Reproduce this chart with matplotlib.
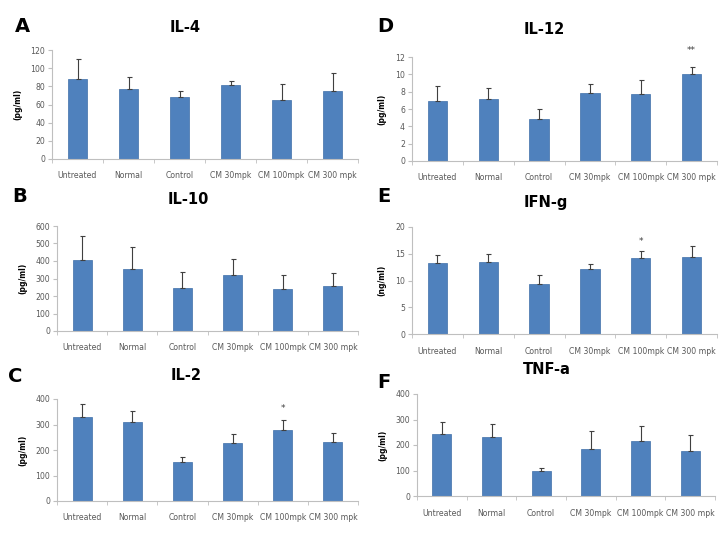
import numpy as np
import matplotlib
matplotlib.use("Agg")
import matplotlib.pyplot as plt

# categories shared by every panel
groups = ["Untreated", "Normal", "Control", "CM 30mpk", "CM 100mpk", "CM 300 mpk"]

# mean values and upper error-bar ends
il4 = [88, 77, 68, 82, 65, 75]
il4_top = [110, 90, 74.5, 85.5, 82.5, 95]

il10 = [408, 356, 246, 318, 238, 255]
il10_top = [545, 480, 335, 411, 320, 331]

il2 = [328, 309, 153, 228, 277, 233]
il2_top = [379, 353, 173, 264, 316, 265]

il12 = [6.9, 7.2, 4.9, 7.8, 7.7, 10.0]
il12_top = [8.6, 8.4, 6.0, 8.9, 9.4, 10.9]

ifng = [13.3, 13.4, 9.4, 12.1, 14.2, 14.3]
ifng_top = [14.7, 15.0, 11.0, 13.1, 15.6, 16.5]

tnfa = [243, 233, 97, 183, 214, 178]
tnfa_top = [291, 283, 110, 253, 276, 238]

BAR = "#4f81bd"
AXC = "#bfbfbf"
TXT = "#595959"

fig = plt.figure(figsize=(7.25, 5.38), dpi=100)
W, H = 725.0, 538.0


def add_panel(px_left, px_right, px_top, px_bottom, vals, tops, ymax, ystep,
              ylabel, title, title_xy, letter, letter_xy, stars=None):
    ax = fig.add_axes([px_left / W, 1 - px_bottom / H,
                       (px_right - px_left) / W, (px_bottom - px_top) / H])
    x = np.arange(len(groups))
    vals = np.array(vals)
    errs = np.array(tops) - vals
    ax.bar(x, vals, width=0.38, color=BAR, edgecolor="#3f6fa8", linewidth=0.5, zorder=2)
    ax.errorbar(x, vals, yerr=[np.zeros_like(errs), errs], fmt="none",
                ecolor="#404040", elinewidth=0.8, capsize=1.8, capthick=0.8, zorder=3)
    if stars:
        for i, (s, yv) in stars.items():
            ax.text(i, yv, s, ha="center", va="center", fontsize=6.5, color="#404040")
    ax.set_xlim(-0.5, len(groups) - 0.5)
    ax.set_ylim(0, ymax)
    ax.set_yticks(np.arange(0, ymax + ystep / 2, ystep))
    ax.set_xticks(x)
    ax.set_xticklabels(groups)
    ax.set_xticks(np.arange(-0.5, len(groups)), minor=True)
    for s in ["top", "right"]:
        ax.spines[s].set_visible(False)
    for s in ["left", "bottom"]:
        ax.spines[s].set_color(AXC)
        ax.spines[s].set_linewidth(0.8)
    ax.tick_params(axis="x", which="major", length=0, labelsize=5.6, colors=TXT, pad=9)
    ax.tick_params(axis="x", which="minor", length=3, color=AXC, direction="out")
    ax.tick_params(axis="y", length=3, color=AXC, labelsize=5.6, labelcolor=TXT, pad=2)
    ax.set_ylabel(ylabel, fontsize=5.5, fontweight="bold", labelpad=6)
    fig.text(title_xy[0] / W, 1 - title_xy[1] / H, title, ha="center", va="center",
             fontsize=10.5, fontweight="bold")
    fig.text(letter_xy[0] / W, 1 - letter_xy[1] / H, letter, ha="center", va="center",
             fontsize=14, fontweight="bold")
    return ax


add_panel(52, 358, 50, 159, il4, il4_top, 120, 20, "(pg/ml)",
          "IL-4", (185, 27), "A", (22, 27))
add_panel(57, 358, 226, 331, il10, il10_top, 600, 100, "(pg/ml)",
          "IL-10", (188, 200), "B", (20, 196))
add_panel(57, 358, 399, 501, il2, il2_top, 400, 100, "(pg/ml)",
          "IL-2", (186, 375), "C", (15, 377), stars={4: ("*", 362)})
add_panel(412, 717, 57, 161, il12, il12_top, 12, 2, "(pg/ml)",
          "IL-12", (544, 30), "D", (385, 27), stars={5: ("**", 12.7)})
add_panel(412, 717, 227, 334, ifng, ifng_top, 20, 5, "(ng/ml)",
          "IFN-g", (546, 203), "E", (384, 197), stars={4: ("*", 17.3)})
add_panel(417, 715, 394, 496, tnfa, tnfa_top, 400, 100, "(pg/ml)",
          "TNF-a", (547, 370), "F", (384, 382))

fig.savefig("out.png", dpi=100)
